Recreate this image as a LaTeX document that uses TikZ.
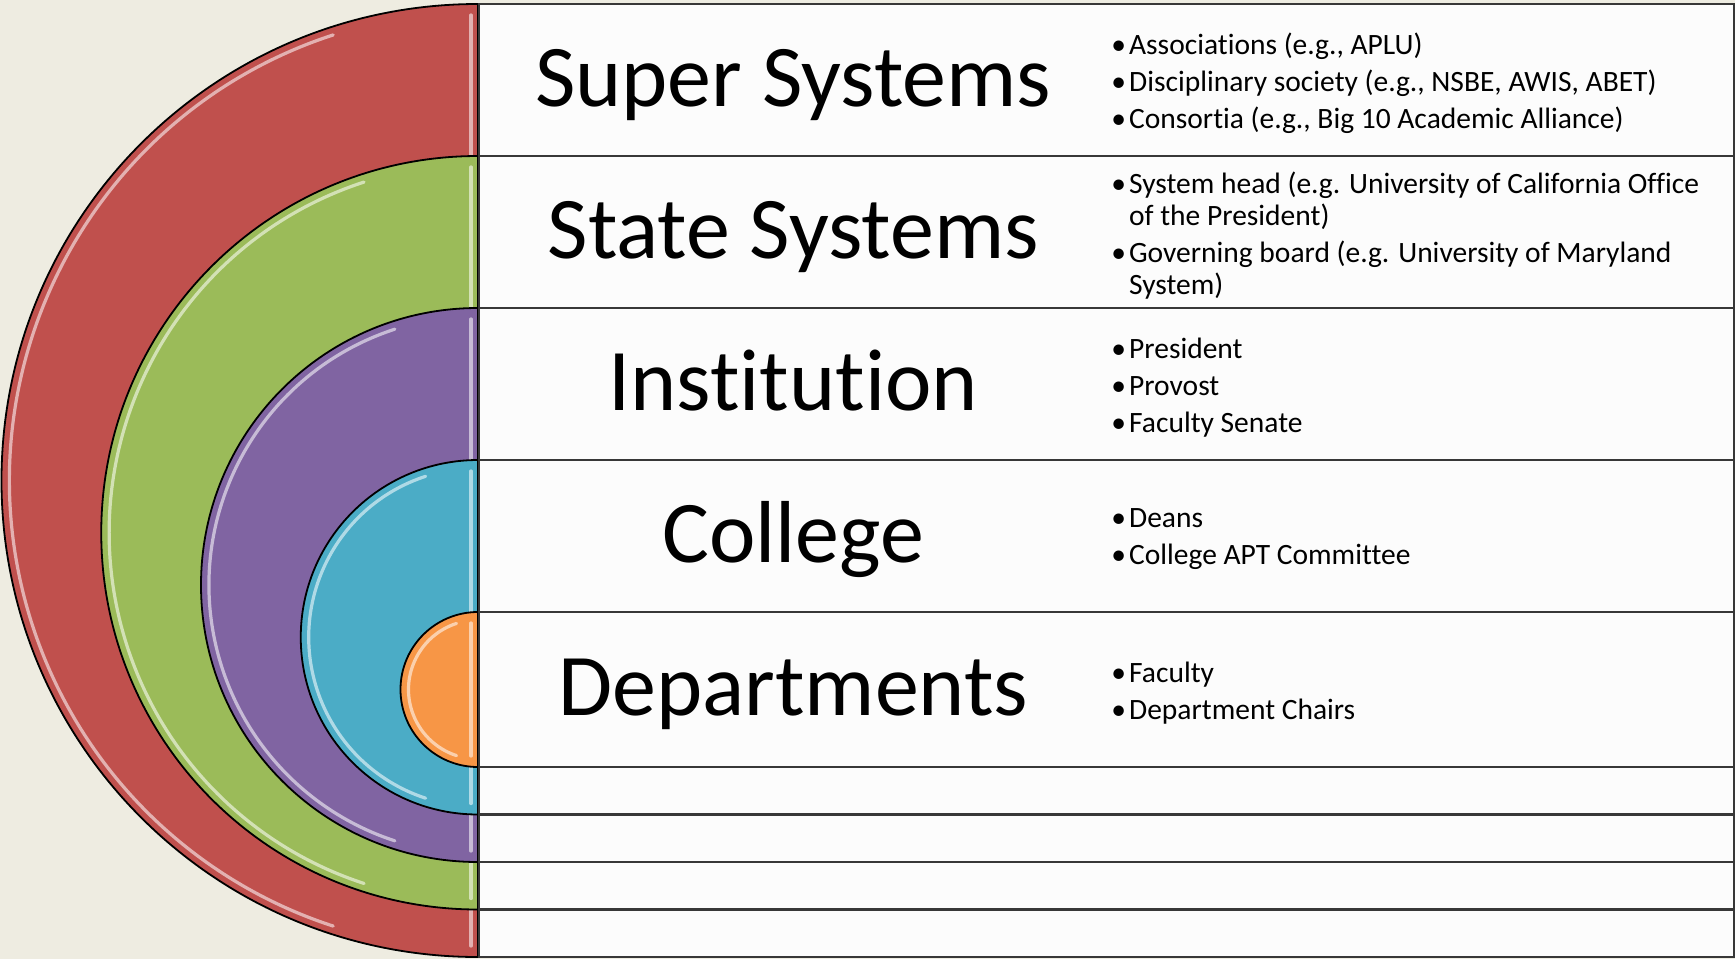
\documentclass[tikz,border=0pt]{standalone}
\usepackage{fontspec}
\setmainfont{Carlito}[Ligatures=NoCommon]
\usetikzlibrary{matrix,positioning,calc}
\definecolor{slidebg}{HTML}{EEECE1}
\definecolor{cellbg}{HTML}{FCFCFC}
\definecolor{rulegray}{HTML}{383838}
\definecolor{ringred}{HTML}{C0504D}
\definecolor{ringgreen}{HTML}{9BBB59}
\definecolor{ringpurple}{HTML}{8064A2}
\definecolor{ringblue}{HTML}{4BACC6}
\definecolor{ringorange}{HTML}{F79646}
\newcommand{\itemdot}{\textbullet\kern3pt}
\tikzset{
  leveltitle/.style={font=\fontsize{88}{90}\selectfont, inner sep=0pt, anchor=base},
  levelitems/.style={font=\fontsize{29.5}{32}\selectfont, align=left, inner sep=0pt, anchor=west},
  ring/.style={draw=black, line width=1.8pt},
  glint/.style={line width=3.2pt, line cap=round, opacity=.8},
}

\begin{document}
\begin{tikzpicture}[x=1pt,y=1pt]
\fill[slidebg] (0,0) rectangle (1735,-959);
\useasboundingbox (0,0) rectangle (1735,-959);

\foreach \ytop/\rad/\col in {4/476.5/ringred, 156/376.75/ringgreen, 308/277/ringpurple, 460/177.25/ringblue, 612/77.5/ringorange}{
  \filldraw[ring, fill=\col] (478,-\ytop) arc[start angle=90, end angle=270, radius=\rad] -- cycle;
  \draw[glint, \col!30!white] (478,-\ytop-\rad) ++(108:{\rad-8}) arc[start angle=108, end angle=252, radius=\rad-8];
  \draw[glint, \col!30!white] (471,-\ytop-11) -- (471,-\ytop-2*\rad+11);
}

\matrix (A) [matrix of nodes, anchor=north west, inner sep=0pt, outer sep=0pt,
    row sep=-2.5pt,
    nodes={draw=rulegray, fill=cellbg, line width=2.5pt, minimum width=1255pt,
      minimum height=47.5pt, inner sep=0pt, outer sep=0pt},
    row 1/.style={nodes={minimum height=152pt}},
    row 2/.style={nodes={minimum height=152pt}},
    row 3/.style={nodes={minimum height=152pt}},
    row 4/.style={nodes={minimum height=152pt}},
    row 5/.style={nodes={minimum height=155pt}},
    ] at (478,-2.75) {
    {}\\ {}\\ {}\\ {}\\ {}\\ {}\\ {}\\ {}\\ {}\\};

\foreach \i/\name in {1/Super Systems, 2/State Systems, 3/Institution, 4/College, 5/Departments}
  \node[leveltitle, xshift=314pt, yshift=-26pt] (title-\i) at (A-\i-1.west) {\name};

\node[levelitems, xshift=632pt, yshift=-3.5pt] (items-1) at (A-1-1.west)
  {\itemdot Associations (e.g., APLU)\\[5pt]
   \itemdot Disciplinary society (e.g., NSBE, AWIS, ABET)\\[5pt]
   \itemdot Consortia (e.g., Big 10 Academic Alliance)};
\node[levelitems, xshift=632pt, yshift=-3.5pt] (items-2) at (A-2-1.west)
  {\itemdot System head (e.g. University of California Office\\
   \hphantom{\itemdot}of the President)\\[5pt]
   \itemdot Governing board (e.g. University of Maryland\\
   \hphantom{\itemdot}System)};
\node[levelitems, xshift=632pt, yshift=-3.5pt] (items-3) at (A-3-1.west)
  {\itemdot President\\[5pt] \itemdot Provost\\[5pt] \itemdot Faculty Senate};
\node[levelitems, xshift=632pt, yshift=-3.5pt] (items-4) at (A-4-1.west)
  {\itemdot Deans\\[5pt] \itemdot College APT Committee};
\node[levelitems, xshift=632pt, yshift=-3.5pt] (items-5) at (A-5-1.west)
  {\itemdot Faculty\\[5pt] \itemdot Department Chairs};

\end{tikzpicture}
\end{document}
